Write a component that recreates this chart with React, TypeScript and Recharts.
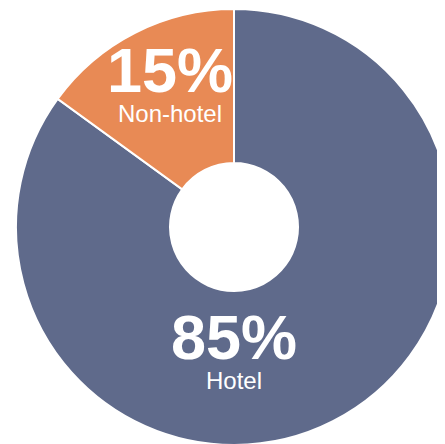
import { PieChart, Pie, Cell } from 'recharts';

const categories = ['Hotel', 'Non-hotel'];
const shares = [85, 15];
const colors = ['#5f6a8b', '#e88a55'];

const data = categories.map((name, i) => ({ name, value: shares[i] }));

const RADIAN = Math.PI / 180;

// big slice label sits straight below the hole, small one follows its mid angle
const renderLabel = (props: any) => {
  const { cx, cy, midAngle, innerRadius, outerRadius, index, name, value } = props;
  const angle = index === 0 ? -90 : midAngle;
  const r = (innerRadius + outerRadius) / 2;
  const x = cx + r * Math.cos(-angle * RADIAN);
  const y = cy + r * Math.sin(-angle * RADIAN);
  return (
    <g key={`label-${index}`}>
      <text
        x={x}
        y={y - 9}
        textAnchor="middle"
        fill="#ffffff"
        fontSize={63}
        fontWeight="bold"
        fontFamily="'Liberation Sans', Arial, sans-serif"
      >
        {`${value}%`}
      </text>
      <text
        x={x}
        y={y + 21}
        textAnchor="middle"
        fill="#ffffff"
        fontSize={24}
        fontFamily="'Liberation Sans', Arial, sans-serif"
      >
        {name}
      </text>
    </g>
  );
};

export default function App() {
  return (
    <div style={{ width: 437, height: 436, overflow: 'hidden' }}>
      <PieChart width={437} height={436} margin={{ top: 0, right: 0, bottom: 0, left: 0 }}>
        <Pie
          data={data}
          dataKey="value"
          nameKey="name"
          cx={226}
          cy={219}
          innerRadius={64}
          outerRadius={218}
          startAngle={90}
          endAngle={-270}
          stroke="#ffffff"
          strokeWidth={2}
          label={renderLabel}
          labelLine={false}
          isAnimationActive={false}
        >
          {data.map((d, i) => (
            <Cell key={d.name} fill={colors[i]} />
          ))}
        </Pie>
      </PieChart>
    </div>
  );
}
